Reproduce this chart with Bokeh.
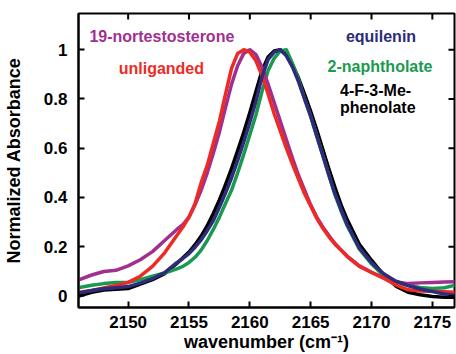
import math
from bokeh.plotting import figure
from bokeh.models import Range1d, FixedTicker, Label
from bokeh.embed import file_html
from bokeh.resources import INLINE

# ---- data ----
wavenumber = [2146, 2147, 2148, 2149, 2150, 2151, 2152, 2153, 2154, 2154.5, 2155, 2155.5,
              2156, 2156.5, 2157, 2157.5, 2158, 2158.5, 2159, 2159.5, 2160, 2160.5, 2161,
              2161.5, 2162, 2162.5, 2163, 2163.5, 2164, 2164.5, 2165, 2165.5, 2166, 2166.5,
              2167, 2167.5, 2168, 2169, 2170, 2171, 2172, 2173, 2174, 2175, 2176, 2177]

unliganded = [0.015, 0.022, 0.032, 0.042, 0.055, 0.080, 0.120, 0.175, 0.245, 0.280, 0.320, 0.375,
              0.460, 0.530, 0.620, 0.710, 0.820, 0.925, 0.985, 1.000, 0.990, 0.955, 0.895,
              0.820, 0.740, 0.670, 0.600, 0.535, 0.475, 0.415, 0.365, 0.315, 0.275, 0.240,
              0.210, 0.185, 0.160, 0.120, 0.095, 0.072, 0.045, 0.025, 0.020, 0.019, 0.017, 0.015]

nortestosterone = [0.066, 0.085, 0.099, 0.104, 0.122, 0.147, 0.180, 0.225, 0.270, 0.290, 0.320, 0.370,
                   0.430, 0.500, 0.580, 0.665, 0.765, 0.860, 0.935, 0.985, 1.000, 0.980, 0.930,
                   0.860, 0.785, 0.710, 0.635, 0.560, 0.490, 0.430, 0.370, 0.320, 0.280, 0.245,
                   0.213, 0.187, 0.162, 0.122, 0.096, 0.073, 0.058, 0.050, 0.053, 0.055, 0.057, 0.058]

equilenin = [0.012, 0.022, 0.029, 0.033, 0.038, 0.052, 0.070, 0.095, 0.135, 0.152, 0.172, 0.198,
             0.228, 0.265, 0.306, 0.360, 0.418, 0.480, 0.550, 0.625, 0.705, 0.790, 0.890,
             0.960, 0.990, 1.000, 0.975, 0.930, 0.870, 0.800, 0.730, 0.650, 0.570, 0.490,
             0.415, 0.350, 0.290, 0.195, 0.135, 0.090, 0.060, 0.042, 0.028, 0.018, 0.008, 0.002]

naphtholate = [0.034, 0.043, 0.050, 0.055, 0.055, 0.066, 0.080, 0.093, 0.110, 0.120, 0.136, 0.157,
               0.186, 0.225, 0.270, 0.320, 0.375, 0.430, 0.500, 0.575, 0.655, 0.735, 0.830,
               0.915, 0.965, 0.995, 1.000, 0.945, 0.878, 0.800, 0.730, 0.650, 0.570, 0.490,
               0.410, 0.345, 0.285, 0.190, 0.130, 0.082, 0.058, 0.042, 0.034, 0.030, 0.033, 0.045]

phenolate = [0.000, 0.015, 0.024, 0.027, 0.030, 0.048, 0.066, 0.090, 0.132, 0.155, 0.178, 0.208,
             0.243, 0.285, 0.335, 0.390, 0.452, 0.518, 0.590, 0.665, 0.745, 0.830, 0.915,
             0.970, 0.995, 1.000, 0.980, 0.940, 0.885, 0.820, 0.750, 0.675, 0.595, 0.515,
             0.440, 0.370, 0.310, 0.210, 0.145, 0.085, 0.040, 0.015, 0.005, -0.002, -0.005, -0.006]

x_ticks = [2150, 2155, 2160, 2165, 2170, 2175]
y_ticks = [0, 0.2, 0.4, 0.6, 0.8, 1]
y_tick_labels = ["0", "0.2", "0.4", "0.6", "0.8", "1"]

label_texts = ["19-nortestosterone", "unliganded", "equilenin", "2-naphtholate", "4-F-3-Me-", "phenolate"]
label_x = [2152.77, 2152.73, 2170.78, 2170.70, 2167.41, 2167.41]
label_y = [1.055, 0.925, 1.055, 0.933, 0.836, 0.767]
label_align = ["center", "center", "center", "center", "left", "left"]

PURPLE = "#a0308f"
RED = "#ee2a24"
NAVY = "#2d2b7a"
GREEN = "#199a50"
BLACK = "#000000"
label_colors = [PURPLE, RED, NAVY, GREEN, BLACK, BLACK]

FONT = "Liberation Sans"

X0, X1 = 2145.92, 2176.82
Y0, Y1 = -0.047, 1.147

p = figure(width=456, height=354, output_backend="svg", toolbar_location=None,
           x_range=Range1d(X0, X1), y_range=Range1d(Y0, Y1),
           min_border_left=73, min_border_right=2, min_border_top=13, min_border_bottom=47)

p.background_fill_color = "white"
p.border_fill_color = "white"
p.outline_line_color = "black"
p.outline_line_width = 2
p.xgrid.grid_line_color = None
p.ygrid.grid_line_color = None

series = [(phenolate, BLACK), (naphtholate, GREEN), (nortestosterone, PURPLE),
          (unliganded, RED), (equilenin, NAVY)]
for ys, col in series:
    p.line(wavenumber, ys, line_color=col, line_width=3.5, line_join="round", line_cap="round")

# main axes
xa = p.xaxis[0]
xa.ticker = FixedTicker(ticks=x_ticks)
ya = p.yaxis[0]
ya.ticker = FixedTicker(ticks=y_ticks)
ya.major_label_overrides = {t: s for t, s in zip(y_ticks, y_tick_labels)}
for ax in (xa, ya):
    ax.axis_line_width = 2
    ax.major_tick_in = 6
    ax.major_tick_out = 0
    ax.major_tick_line_width = 2
    ax.minor_tick_line_color = None
    ax.major_label_text_font = FONT
    ax.major_label_text_font_style = "bold"
    ax.major_label_text_font_size = "17px"
    ax.major_label_text_color = "black"
    ax.axis_label_text_font = FONT
    ax.axis_label_text_font_style = "bold"
    ax.axis_label_text_font_size = "18px"
    ax.axis_label_text_color = "black"
xa.axis_label = "wavenumber (cm\u207B\u00B9)"
xa.major_label_standoff = 8
xa.axis_label_standoff = 1
ya.axis_label = "Normalized Absorbance"
ya.major_label_standoff = 11
ya.axis_label_standoff = 17

# mirrored inward ticks on the top and right frame edges
p.ray(x=x_ticks, y=[Y1] * len(x_ticks), length=6, length_units="screen",
      angle=-math.pi / 2, line_color="black", line_width=2)
p.ray(x=[X1] * len(y_ticks), y=y_ticks, length=6, length_units="screen",
      angle=math.pi, line_color="black", line_width=2)

for t, x, y, a, c in zip(label_texts, label_x, label_y, label_align, label_colors):
    p.add_layout(Label(x=x, y=y, text=t, text_align=a, text_baseline="middle",
                       text_color=c, text_font=FONT, text_font_style="bold",
                       text_font_size="16px"))

open("out.html", "w").write(file_html(p, INLINE))
